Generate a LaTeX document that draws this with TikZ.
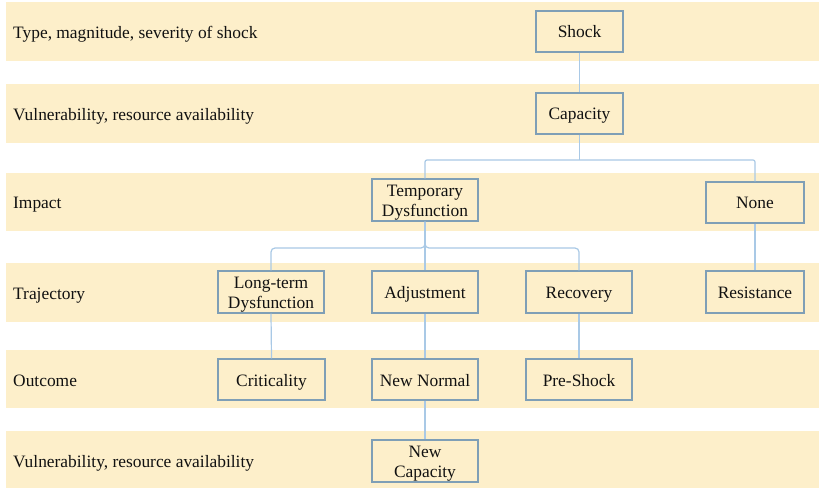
\documentclass[tikz,border=0pt]{standalone}
\usepackage{fontspec}
\setmainfont{Liberation Serif}
\definecolor{bandfill}{HTML}{FDEFCA}
\definecolor{boxline}{HTML}{7F9FB6}
\definecolor{linkline}{HTML}{A9C9E6}
\definecolor{txt}{HTML}{111111}
\tikzset{
  x=1pt, y=-1pt,
  band/.style={fill=bandfill, draw=none},
  rowlabel/.style={anchor=base west, inner sep=0pt, text=txt, font=\fontsize{17.4}{20.5}\selectfont},
  stagebox/.style={draw=boxline, line width=1.3pt, fill=bandfill, text=txt,
    align=center, inner sep=0pt, text height=13pt, text depth=0pt,
    font=\fontsize{17.4}{20.5}\selectfont},
  twoline/.style={text height=33.5pt}
}
\tikzset{link/.style={draw=linkline, line width=1.2pt}}
\begin{document}
\begin{tikzpicture}
\useasboundingbox (0,0) rectangle (819,489);
\fill[white] (0,0) rectangle (819,489);

% horizontal bands, one per level
\fill[band] (6,2)   rectangle (819,61);
\fill[band] (6,84)  rectangle (819,143);
\fill[band] (6,173) rectangle (819,231);
\fill[band] (6,263) rectangle (819,322);
\fill[band] (6,350) rectangle (819,408);
\fill[band] (6,431) rectangle (819,488);

% level labels
\node[rowlabel] (l1) at (13,38.5)  {Type, magnitude, severity of shock};
\node[rowlabel] (l2) at (13,120.5) {Vulnerability, resource availability};
\node[rowlabel] (l3) at (13,209)   {Impact};
\node[rowlabel] (l4) at (13,299.5) {Trajectory};
\node[rowlabel] (l5) at (13,386)   {Outcome};
\node[rowlabel] (l6) at (13,467)   {Vulnerability, resource availability};

% stage boxes
\node[stagebox, minimum width=87pt,  minimum height=41pt] (shock) at (579.5,31.5) {Shock};
\node[stagebox, minimum width=87pt,  minimum height=41pt] (cap)   at (579.5,113.5) {Capacity};
\node[stagebox, twoline, minimum width=106pt, minimum height=42pt] (td) at (425,200) {Temporary\\Dysfunction};
\node[stagebox, minimum width=98pt,  minimum height=41pt] (none)  at (755,202.5)  {None};
\node[stagebox, twoline, minimum width=106pt, minimum height=42pt] (lt) at (271,292) {Long-term\\Dysfunction};
\node[stagebox, minimum width=106pt, minimum height=42pt] (adj)   at (425,292)    {Adjustment};
\node[stagebox, minimum width=106pt, minimum height=42pt] (rec)   at (579,292)    {Recovery};
\node[stagebox, minimum width=98pt,  minimum height=42pt] (res)   at (755,292)    {Resistance};
\node[stagebox, minimum width=107pt, minimum height=41pt] (crit)  at (271.5,379.5) {Criticality};
\node[stagebox, minimum width=106pt, minimum height=41pt] (nn)    at (425,379.5)  {New Normal};
\node[stagebox, minimum width=106pt, minimum height=41pt] (ps)    at (579,379.5)  {Pre-Shock};
\node[stagebox, twoline, minimum width=106pt, minimum height=42pt] (nc) at (425,461) {New\\Capacity};

% fork points of the branching links
\coordinate (capfork) at (579.5,160);
\coordinate (tdfork)  at (425,248);

% links
\draw[link] (shock.south) -- (cap.north);
\draw[link] (cap.south) -- (capfork);
\draw[link, rounded corners=2pt] (td.north) |- (capfork) -| (none.north);
\draw[link, rounded corners=4pt] (td.south) |- (tdfork) -| (lt.north);
\draw[link, rounded corners=4pt] (td.south) |- (tdfork) -| (rec.north);
\draw[link] (td.south) -- (adj.north);
\draw[link] (none.south) -- (res.north);
\draw[link] (lt.south) -- (crit.north);
\draw[link] (adj.south) -- (nn.north);
\draw[link] (rec.south) -- (ps.north);
\draw[link] (nn.south) -- (nc.north);
\end{tikzpicture}
\end{document}
